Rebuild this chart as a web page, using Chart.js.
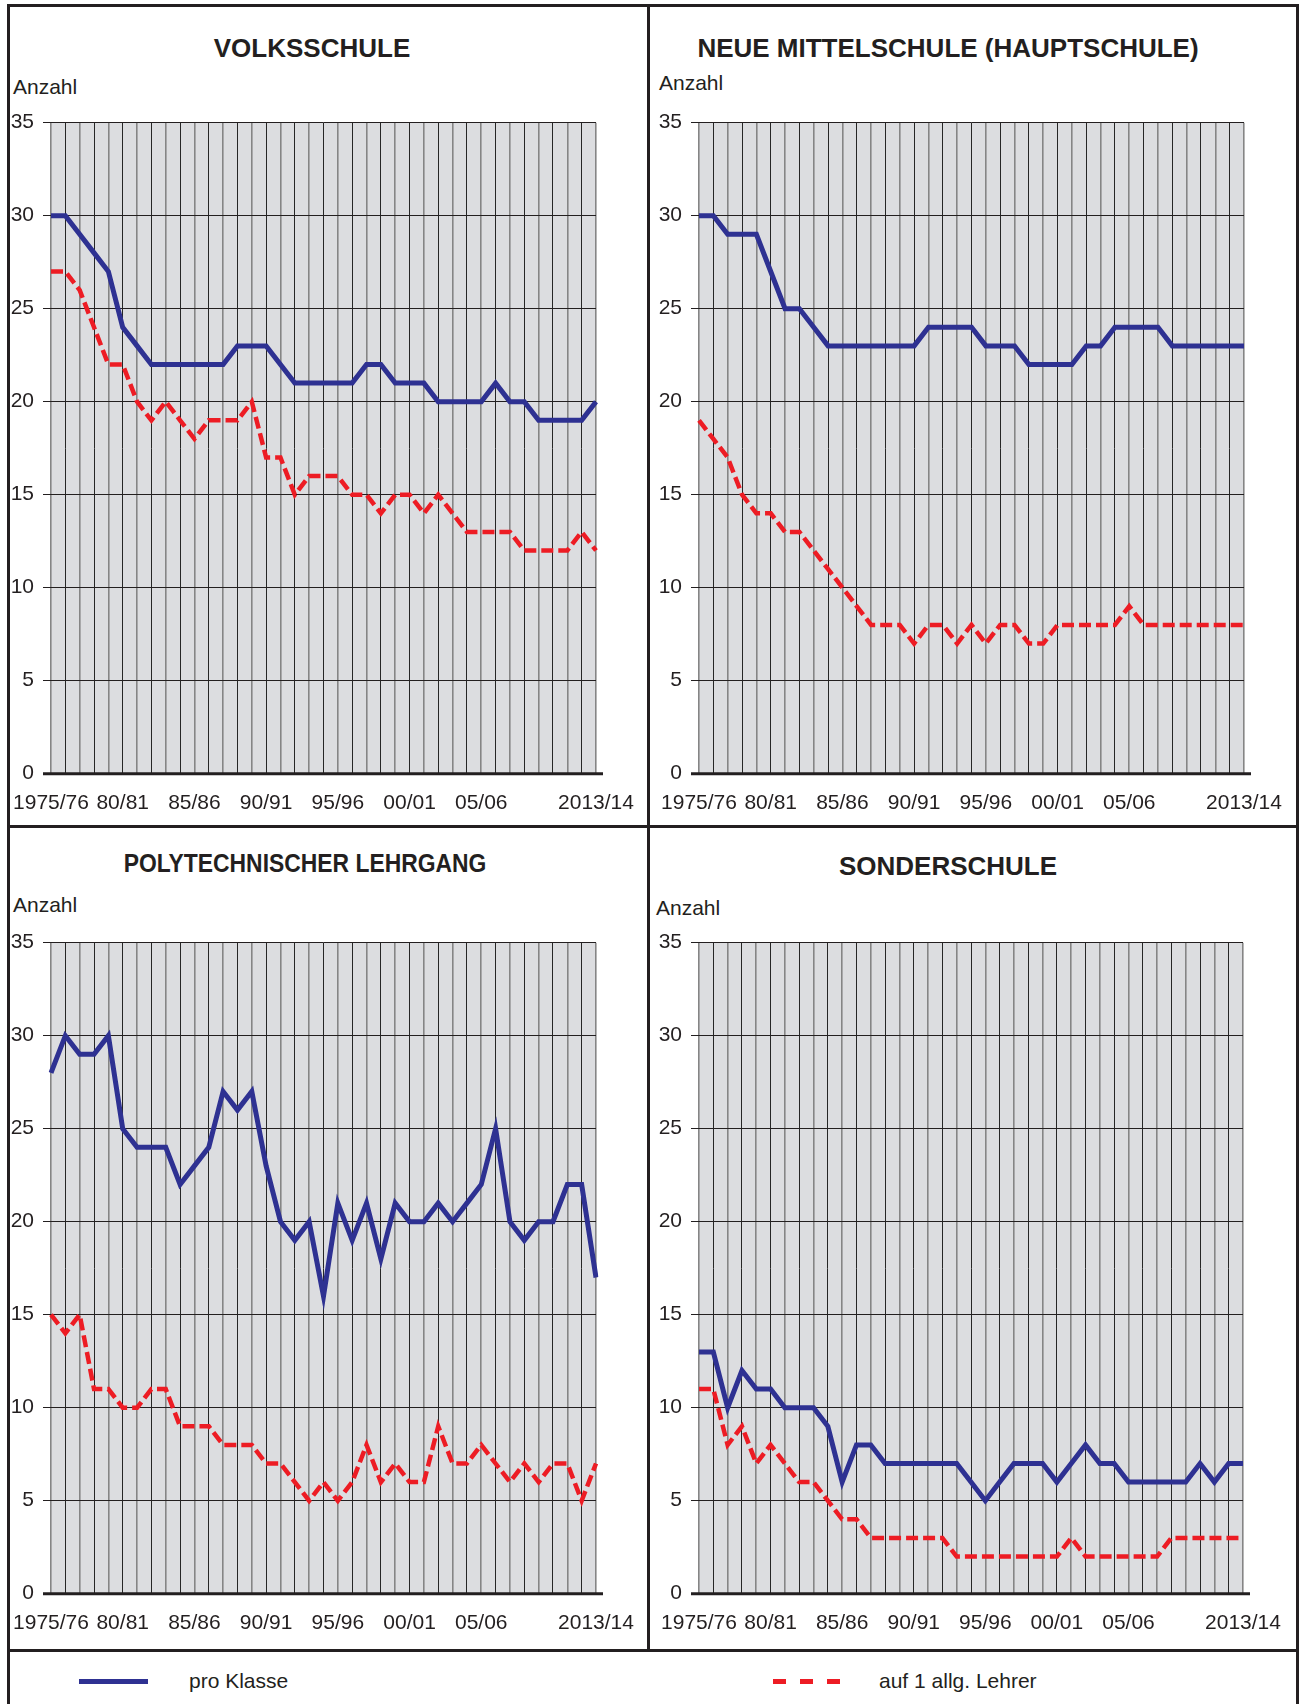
<!DOCTYPE html>
<html lang="de">
<head>
<meta charset="utf-8">
<title>Schüler pro Klasse / pro Lehrer</title>
<script src="https://cdn.jsdelivr.net/npm/chart.js@4.4.1/dist/chart.umd.min.js"></script>
<style>
  html, body { margin: 0; padding: 0; background: #fff; }
  body { width: 1304px; height: 1704px; position: relative; overflow: hidden;
         font-family: Arial, "Liberation Sans", sans-serif; color: #231f20; }
  .rule  { position: absolute; background: #231f20; }
  .title { position: absolute; font-weight: bold; font-size: 26px; white-space: nowrap;
           transform: translate(-50%, -50%); }
  .unit  { position: absolute; font-size: 21px; transform: translateY(-50%); }
  canvas { position: absolute; }
  .leg-text { position: absolute; font-size: 21px; transform: translateY(-50%); white-space: nowrap; }
  .leg-line { position: absolute; height: 5px; background: #2e3192; }
  .leg-dash { position: absolute; width: 13px; height: 5px; background: #ed1c24; }
</style>
</head>
<body>

<!-- frame -->
<div class="rule" style="left:7px;top:4px;width:1292px;height:3px"></div>
<div class="rule" style="left:7px;top:4px;width:3px;height:1700px"></div>
<div class="rule" style="left:1296px;top:4px;width:3px;height:1700px"></div>
<div class="rule" style="left:647px;top:4px;width:3px;height:1648px"></div>
<div class="rule" style="left:7px;top:825px;width:1292px;height:3px"></div>
<div class="rule" style="left:7px;top:1649px;width:1292px;height:3px"></div>

<div class="title" style="left:312px;top:48px">VOLKSSCHULE</div>
<div class="title" style="left:948px;top:48px">NEUE MITTELSCHULE (HAUPTSCHULE)</div>
<div class="title" style="left:305px;top:863px;transform:translate(-50%,-50%) scaleX(0.88)">POLYTECHNISCHER LEHRGANG</div>
<div class="title" style="left:948px;top:866px">SONDERSCHULE</div>

<div class="unit" style="left:13px;top:87px">Anzahl</div>
<div class="unit" style="left:659px;top:83px">Anzahl</div>
<div class="unit" style="left:13px;top:905px">Anzahl</div>
<div class="unit" style="left:656px;top:908px">Anzahl</div>

<canvas id="c-vs"  width="648" height="725" style="left:0;top:100px"></canvas>
<canvas id="c-nms" width="650" height="725" style="left:648px;top:100px"></canvas>
<canvas id="c-ptl" width="648" height="725" style="left:0;top:920px"></canvas>
<canvas id="c-ss"  width="650" height="725" style="left:648px;top:920px"></canvas>

<!-- legend -->
<div class="leg-line" style="left:79px;top:1679px;width:69px"></div>
<div class="leg-text" style="left:189px;top:1681px">pro Klasse</div>
<div class="leg-dash" style="left:773px;top:1679px"></div>
<div class="leg-dash" style="left:800px;top:1679px"></div>
<div class="leg-dash" style="left:827px;top:1679px"></div>
<div class="leg-text" style="left:879px;top:1681px">auf 1 allg. Lehrer</div>

<script>
'use strict';

// ── Data ──────────────────────────────────────────────────────
const years = [
  '1975/76','1976/77','1977/78','1978/79','1979/80','1980/81','1981/82','1982/83',
  '1983/84','1984/85','1985/86','1986/87','1987/88','1988/89','1989/90','1990/91',
  '1991/92','1992/93','1993/94','1994/95','1995/96','1996/97','1997/98','1998/99',
  '1999/00','2000/01','2001/02','2002/03','2003/04','2004/05','2005/06','2006/07',
  '2007/08','2008/09','2009/10','2010/11','2011/12','2012/13','2013/14'
];
const tickYears = ['1975/76','1980/81','1985/86','1990/91','1995/96','2000/01','2005/06','2013/14'];
const tickText  = ['1975/76','80/81','85/86','90/91','95/96','00/01','05/06','2013/14'];
const yTicks    = [0, 35, 5];   // min, max, step

const vsKlasse  = [30,30,29,28,27,24,23,22,22,22,22,22,22,23,23,23,22,21,21,21,21,21,22,22,21,21,21,20,20,20,20,21,20,20,19,19,19,19,20];
const vsLehrer  = [27,27,26,24,22,22,20,19,20,19,18,19,19,19,20,17,17,15,16,16,16,15,15,14,15,15,14,15,14,13,13,13,13,12,12,12,12,13,12];
const nmsKlasse = [30,30,29,29,29,27,25,25,24,23,23,23,23,23,23,23,24,24,24,24,23,23,23,22,22,22,22,23,23,24,24,24,24,23,23,23,23,23,23];
const nmsLehrer = [19,18,17,15,14,14,13,13,12,11,10,9,8,8,8,7,8,8,7,8,7,8,8,7,7,8,8,8,8,8,9,8,8,8,8,8,8,8,8];
const ptlKlasse = [28,30,29,29,30,25,24,24,24,22,23,24,27,26,27,23,20,19,20,16,21,19,21,18,21,20,20,21,20,21,22,25,20,19,20,20,22,22,17];
const ptlLehrer = [15,14,15,11,11,10,10,11,11,9,9,9,8,8,8,7,7,6,5,6,5,6,8,6,7,6,6,9,7,7,8,7,6,7,6,7,7,5,7];
const ssKlasse  = [13,13,10,12,11,11,10,10,10,9,6,8,8,7,7,7,7,7,7,6,5,6,7,7,7,6,7,8,7,7,6,6,6,6,6,7,6,7,7];
const ssLehrer  = [11,11,8,9,7,8,7,6,6,5,4,4,3,3,3,3,3,3,2,2,2,2,2,2,2,2,3,2,2,2,2,2,2,3,3,3,3,3,3];

// ── Styling ───────────────────────────────────────────────────
const BLUE = '#2e3192';
const RED  = '#ed1c24';
const INK  = '#231f20';
const FONT = 'Arial, "Liberation Sans", sans-serif';

// grey plot background
const plotBg = {
  id: 'plotBg',
  beforeDraw(chart) {
    const { ctx, chartArea: a } = chart;
    ctx.save();
    ctx.fillStyle = '#dcdde0';
    ctx.fillRect(a.left, a.top, a.right - a.left, a.bottom - a.top);
    ctx.restore();
  }
};

// thick base line, a bit wider than the plot
const baseLine = {
  id: 'baseLine',
  afterDraw(chart) {
    const { ctx, chartArea: a } = chart;
    ctx.save();
    ctx.strokeStyle = INK;
    ctx.lineWidth = 3;
    ctx.beginPath();
    ctx.moveTo(a.left - 8, a.bottom);
    ctx.lineTo(a.right + 7, a.bottom);
    ctx.stroke();
    ctx.restore();
  }
};

function makeChart(id, klasse, lehrer, padRight) {
  return new Chart(document.getElementById(id), {
    type: 'line',
    data: {
      labels: years,
      datasets: [
        { label: 'pro Klasse', data: klasse, borderColor: BLUE, borderWidth: 5,
          pointRadius: 0, tension: 0 },
        { label: 'auf 1 allg. Lehrer', data: lehrer, borderColor: RED, borderWidth: 4.5,
          borderDash: [12, 5], borderCapStyle: 'butt', pointRadius: 0, tension: 0 }
      ]
    },
    options: {
      responsive: false, animation: false, devicePixelRatio: 1,
      layout: { padding: { top: 22.7, right: padRight, left: 0, bottom: 0 } },
      plugins: { legend: { display: false }, tooltip: { enabled: false } },
      scales: {
        x: {
          type: 'category', offset: false,
          grid: {
            offset: false, drawTicks: false,
            color: ctx => ctx.index % 2 ? '#262626' : '#858585',
            lineWidth: ctx => ctx.index % 2 ? 1 : 1.6
          },
          border: { display: false },
          ticks: {
            autoSkip: false, maxRotation: 0, padding: 17,
            color: INK, font: { family: FONT, size: 21 },
            callback: (v, i) => {
              const k = tickYears.indexOf(years[i]);
              return k >= 0 ? tickText[k] : '';
            }
          },
          afterFit(s) { s.height = 51.3; s.paddingLeft = 0; s.paddingRight = 0; }
        },
        y: {
          min: yTicks[0], max: yTicks[1],
          grid: { color: INK, lineWidth: 1, tickLength: 8, tickColor: INK },
          border: { display: false },
          ticks: { stepSize: yTicks[2], padding: 9, color: INK, font: { family: FONT, size: 21 } },
          afterFit(s) { s.width = 51; s.paddingTop = 0; s.paddingBottom = 0; }
        }
      }
    },
    plugins: [plotBg, baseLine]
  });
}

// ── Init ──────────────────────────────────────────────────────
makeChart('c-vs',  vsKlasse,  vsLehrer,  52);
makeChart('c-nms', nmsKlasse, nmsLehrer, 54);
makeChart('c-ptl', ptlKlasse, ptlLehrer, 52);
makeChart('c-ss',  ssKlasse,  ssLehrer,  55);
</script>
</body>
</html>
